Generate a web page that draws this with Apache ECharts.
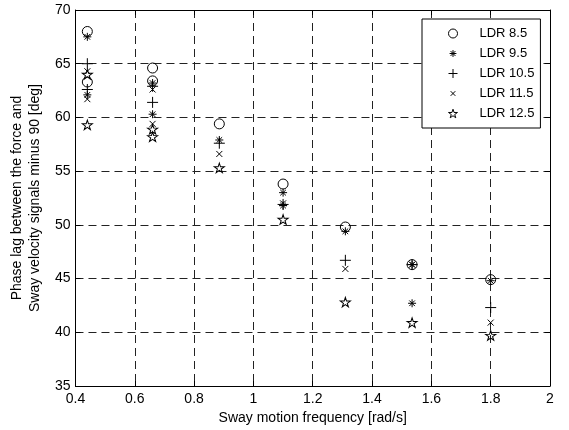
<!DOCTYPE html>
<html><head><meta charset="utf-8">
<script src="https://cdn.jsdelivr.net/npm/echarts@6/dist/echarts.min.js"></script>
<style>html,body{margin:0;padding:0;background:#fff}#c{width:569px;height:430px}</style>
</head><body><div id="c"></div>
<script>
const seriesNames = ['LDR 8.5', 'LDR 9.5', 'LDR 10.5', 'LDR 11.5', 'LDR 12.5'];
const ldr85X = [0.44, 0.44, 0.66, 0.66, 0.885, 1.10, 1.31, 1.535, 1.80];
const ldr85Y = [68.0, 63.3, 64.6, 63.4, 59.4, 53.8, 49.8, 46.3, 44.9];
const ldr95X = [0.44, 0.44, 0.66, 0.66, 0.885, 1.10, 1.10, 1.31, 1.535, 1.535, 1.80];
const ldr95Y = [67.5, 62.1, 63.2, 60.3, 57.9, 53.0, 51.8, 49.4, 46.3, 42.7, 44.8];
const ldr105X = [0.44, 0.44, 0.66, 0.66, 0.885, 1.10, 1.31, 1.535, 1.80];
const ldr105Y = [65.0, 62.6, 62.9, 61.4, 57.6, 51.9, 46.7, 46.3, 42.3];
const ldr115X = [0.44, 0.44, 0.66, 0.66, 0.885, 1.10, 1.31, 1.535, 1.80];
const ldr115Y = [64.3, 61.7, 62.6, 59.4, 56.6, 52.0, 45.9, 46.3, 40.9];
const ldr125X = [0.44, 0.44, 0.66, 0.66, 0.885, 1.10, 1.31, 1.535, 1.80];
const ldr125Y = [64.0, 59.3, 58.9, 58.2, 55.3, 50.5, 42.8, 40.9, 39.7];
const xTicks = [0.4, 0.6, 0.8, 1, 1.2, 1.4, 1.6, 1.8, 2];
const yTicks = [35, 40, 45, 50, 55, 60, 65, 70];

const FONT = 'Liberation Sans, Arial, Helvetica, sans-serif';
const symAsterisk = 'path://M50 0L50 100M0 50L100 50M15 15L85 85M85 15L15 85';
const symPlus = 'path://M50 0L50 100M0 50L100 50';
const symX = 'path://M0 0L100 100M100 0L0 100';
const symStar = 'path://M50 0L61.2 34.5L97.6 34.5L68.2 55.9L79.4 90.5L50 69.1L20.6 90.5L31.8 55.9L2.4 34.5L38.8 34.5Z';
const legAsterisk = 'path://M0 0M100 100M50 12L50 88M12 50L88 50M23 23L77 77M77 23L23 77';
const legX = 'path://M0 0M100 100M24 24L76 76M76 24L24 76';

const xs = [ldr85X, ldr95X, ldr105X, ldr115X, ldr125X];
const ys = [ldr85Y, ldr95Y, ldr105Y, ldr115Y, ldr125Y];
const symbols = ['circle', symAsterisk, symPlus, symX, symStar];
const legendIcons = ['circle', legAsterisk, symPlus, legX, symStar];
const sizes = [10, 8, 11, 6, [10, 9.5]];

const chart = echarts.init(document.getElementById('c'), null, {renderer: 'canvas'});
const fmt = v => String(+(+v).toFixed(2));
const gridLine = {show: true, lineStyle: {color: '#222', type: [8, 5], width: 1}};
const axisLine = {show: true, onZero: false, lineStyle: {color: '#000', width: 1}};
const tick = {show: true, inside: true, length: 5, lineStyle: {color: '#000'}};

chart.setOption({
  animation: false,
  textStyle: {fontFamily: FONT},
  grid: {left: 74, right: 19, top: 10, bottom: 44, containLabel: false},
  legend: {
    orient: 'vertical', left: 422, top: 19,
    data: seriesNames.map((name, i) => ({name, icon: legendIcons[i]})),
    backgroundColor: '#fff', borderColor: '#000', borderWidth: 1,
    padding: [8, 6, 8, 26],
    itemWidth: 9, itemHeight: 9, itemGap: 7,
    itemStyle: {color: 'rgba(0,0,0,0)', borderColor: '#000', borderWidth: 1},
    textStyle: {fontFamily: FONT, fontSize: 13, color: '#000', padding: [0, 0, 0, 17]}
  },
  xAxis: [{
    type: 'value', min: 0.4, max: 2, interval: 0.2, position: 'bottom',
    axisLine, axisTick: tick, splitLine: gridLine,
    axisLabel: {color: '#000', fontSize: 14, fontFamily: FONT, margin: 6,
      formatter: v => { const t = xTicks.find(k => Math.abs(k - v) < 1e-6); return t === undefined ? '' : fmt(t); }},
    name: 'Sway motion frequency [rad/s]', nameLocation: 'middle', nameGap: 17,
    nameTextStyle: {color: '#000', fontSize: 14, fontFamily: FONT}
  }, {
    type: 'value', min: 0.4, max: 2, interval: 0.2, position: 'top',
    axisLine, axisTick: tick, splitLine: {show: false}, axisLabel: {show: false}
  }],
  yAxis: [{
    type: 'value', min: 35, max: 70, interval: 5, position: 'left',
    axisLine, axisTick: tick, splitLine: gridLine,
    axisLabel: {color: '#000', fontSize: 14, fontFamily: FONT, margin: 5,
      formatter: v => { const t = yTicks.find(k => Math.abs(k - v) < 1e-6); return t === undefined ? '' : String(t); }},
    name: 'Phase lag between the force and\nSway velocity signals minus 90 [deg]',
    nameLocation: 'middle', nameGap: 28, nameRotate: 90,
    nameTextStyle: {color: '#000', fontSize: 14, fontFamily: FONT, lineHeight: 18}
  }, {
    type: 'value', min: 35, max: 70, interval: 5, position: 'right',
    axisLine, axisTick: tick, splitLine: {show: false}, axisLabel: {show: false}
  }],
  series: seriesNames.map((name, i) => ({
    name, type: 'scatter', xAxisIndex: 0, yAxisIndex: 0,
    symbol: symbols[i], symbolSize: sizes[i],
    itemStyle: {color: 'rgba(0,0,0,0)', borderColor: '#000', borderWidth: 1, opacity: 1},
    emphasis: {disabled: true},
    data: xs[i].map((x, j) => [x, ys[i][j]]),
    z: 5
  }))
});
</script></body></html>
